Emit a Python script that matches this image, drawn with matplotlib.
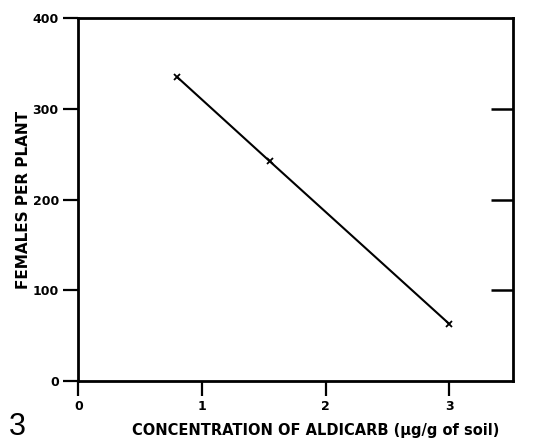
import matplotlib.pyplot as plt

# aldicarb concentration vs females per plant
concentration = [0.8, 1.55, 3.0]
females = [335, 242, 63]

x_ticks = [0, 1, 2, 3]
y_ticks = [0, 100, 200, 300, 400]

plt.rcParams['font.family'] = ['DejaVu Sans']

fig = plt.figure(figsize=(5.36, 4.41), dpi=100)
ax = fig.add_axes([0.146, 0.136, 0.812, 0.823])

ax.plot(concentration, females, color="black", lw=1.5, marker="x", ms=4, mew=1.3)

ax.set_xlim(0, 3.52)
ax.set_ylim(0, 400)
for s in ax.spines.values():
    s.set_linewidth(2.0)

ax.set_xticks(x_ticks)
ax.set_yticks(y_ticks)
ax.tick_params(axis="both", direction="out", length=11, width=1.6, labelsize=9, pad=3)
for lab in ax.get_xticklabels() + ax.get_yticklabels():
    lab.set_fontweight("bold")

# inward ticks on the right side, no labels
right = ax.secondary_yaxis("right")
right.set_yticks([100, 200, 300])
right.tick_params(direction="in", length=16, width=1.8, labelright=False)
right.spines["right"].set_visible(False)

ax.set_xlabel("CONCENTRATION OF ALDICARB (\u00b5g/g of soil)", fontsize=10.5, fontweight="bold")
ax.xaxis.set_label_coords(0.545, -0.115)
ax.set_ylabel("FEMALES PER PLANT", fontsize=11, fontweight="bold")
ax.yaxis.set_label_coords(-0.108, 0.5)

# figure number
fig.text(0.016, 0.014, "3", fontsize=22, family="Liberation Sans")

fig.savefig("out.png", dpi=100)
